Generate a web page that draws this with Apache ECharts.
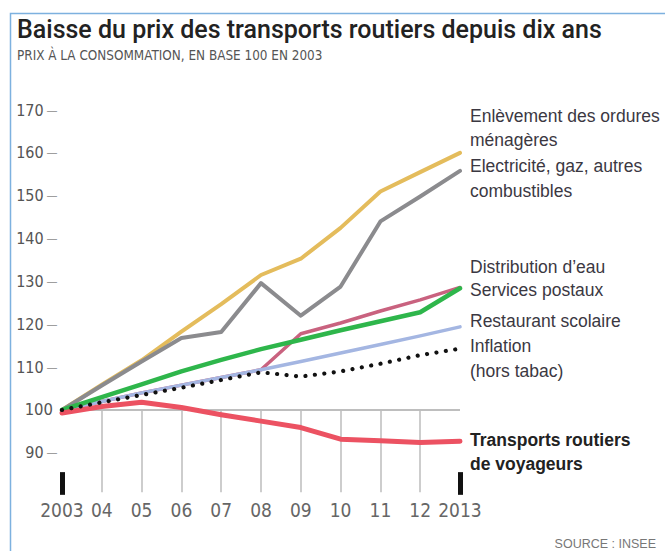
<!DOCTYPE html>
<html>
<head>
<meta charset="utf-8">
<style>html,body{margin:0;padding:0;background:#fff;}#c{width:665px;height:551px;}</style>
<script src="https://cdn.jsdelivr.net/npm/echarts@6/dist/echarts.min.js"></script>
</head>
<body>
<div id="c"></div>
<script>
const years = ['2003','04','05','06','07','08','09','10','11','12','2013'];
const yTicks = [90, 100, 110, 120, 130, 140, 150, 160, 170];
const ordures = [100, 105.9, 111.6, 118.3, 124.7, 131.5, 135.3, 142.5, 151, 155.5, 160];
const electricite = [100, 105.7, 111.3, 116.8, 118.2, 129.6, 122, 128.8, 144, 149.8, 155.8];
const eau = [100, 102, 104, 105.8, 107.6, 109.4, 117.8, 120.3, 123.1, 125.7, 128.6];
const postaux = [100, 103, 106, 109, 111.7, 114.2, 116.4, 118.6, 120.7, 122.8, 128.4];
const scolaire = [100, 102, 104, 105.8, 107.6, 109.4, 111.3, 113.3, 115.3, 117.3, 119.4];
const inflation = [100, 101.8, 103.5, 105.2, 107, 108.8, 107.8, 109, 110.8, 112.8, 114.3];
const transports = [99.3, 100.8, 101.8, 100.6, 98.9, 97.4, 95.9, 93.2, 92.8, 92.4, 92.7];

const labelTexts = [
  {t: 'Enlèvement des ordures', y: 117},
  {t: 'ménagères', y: 141},
  {t: 'Electricité, gaz, autres', y: 167},
  {t: 'combustibles', y: 192},
  {t: 'Distribution d\u2019eau', y: 268},
  {t: 'Services postaux', y: 291},
  {t: 'Restaurant scolaire', y: 322},
  {t: 'Inflation', y: 347},
  {t: '(hors tabac)', y: 372},
  {t: 'Transports routiers', y: 441, b: true},
  {t: 'de voyageurs', y: 465, b: true}
];

const NARROW = "'Liberation Sans Narrow', 'DejaVu Sans Condensed', sans-serif";
const SANS = "'Liberation Sans', Arial, sans-serif";

const chart = echarts.init(document.getElementById('c'), null, {renderer: 'svg'});

const gridMarks = years.slice(1, -1).map(c => [{coord: [c, 100]}, {coord: [c, 80.8]}]);
const endBars = [years[0], years[years.length - 1]].map(c => [{coord: [c, 80.2]}, {coord: [c, 85.5]}]);

function lineSeries(name, data, color, width, z) {
  return {
    name, type: 'line', data, symbol: 'none', z,
    lineStyle: {color, width, cap: 'round', join: 'round'},
    emphasis: {disabled: true}, silent: true
  };
}

chart.setOption({
  animation: false,
  backgroundColor: '#fff',
  title: {
    text: 'Baisse du prix des transports routiers depuis dix ans',
    subtext: 'PRIX À LA CONSOMMATION, EN BASE 100 EN 2003',
    left: 17, top: 17, itemGap: 7, padding: 0,
    textStyle: {fontFamily: 'Roboto', fontWeight: 500, fontSize: 25, color: '#222'},
    subtextStyle: {fontFamily: NARROW, fontSize: 13.4, color: '#555'}
  },
  grid: {left: 62, right: 205, top: 110, bottom: 55.3},
  xAxis: {
    type: 'category', data: years, boundaryGap: false,
    axisLine: {show: false}, axisTick: {show: false}, splitLine: {show: false},
    axisLabel: {fontFamily: NARROW, fontSize: 19, color: '#666', margin: 5, interval: 0}
  },
  yAxis: {
    type: 'value', min: 80, max: 170, interval: 10,
    axisLine: {show: false}, axisTick: {show: false}, splitLine: {show: false},
    axisLabel: {
      margin: 5,
      formatter: v => yTicks.indexOf(v) < 0 ? '' : (v === 100 ? '{h|100}' : '{v|' + v + '} {d|\u2014}'),
      rich: {
        v: {fontFamily: NARROW, fontSize: 16, color: '#555'},
        h: {fontFamily: NARROW, fontSize: 16.5, color: '#555', padding: [0, 4, 0, 0]},
        d: {fontFamily: SANS, fontSize: 10, color: '#888'}
      }
    }
  },
  series: [
    {
      type: 'line', data: [], symbol: 'none', z: 1, silent: true,
      markLine: {
        silent: true, symbol: 'none', label: {show: false}, animation: false,
        data: [
          [{coord: [years[0], 100], lineStyle: {color: '#a8a8a8', width: 1.5, type: 'solid'}},
           {coord: [years[years.length - 1], 100]}],
          ...gridMarks.map(p => [Object.assign({lineStyle: {color: '#bdbdbd', width: 1.5, type: 'solid'}}, p[0]), p[1]]),
          ...endBars.map(p => [Object.assign({lineStyle: {color: '#111', width: 5, type: 'solid', cap: 'butt'}}, p[0]), p[1]])
        ]
      }
    },
    lineSeries('Enlèvement des ordures ménagères', ordures, '#e4bc5c', 4, 2),
    lineSeries('Electricité, gaz, autres combustibles', electricite, '#8b8b8e', 4, 3),
    lineSeries('Distribution d\u2019eau', eau, '#c9627f', 3.5, 4),
    lineSeries('Restaurant scolaire', scolaire, '#a4b6e2', 3.5, 5),
    lineSeries('Services postaux', postaux, '#2eb64b', 4.5, 6),
    lineSeries('Transports routiers de voyageurs', transports, '#ec5262', 5, 7),
    {
      name: 'Inflation (hors tabac)', type: 'line', data: inflation, symbol: 'none', z: 8, silent: true,
      lineStyle: {color: '#111', width: 4.2, type: [0.01, 9.5], cap: 'round'}
    }
  ],
  graphic: [
    {type: 'polyline', silent: true, z: 100,
     shape: {points: [[10.5, 551], [10.5, 13.5], [665, 13.5]]},
     style: {stroke: '#7db1df', lineWidth: 1.5, fill: null}},
    ...labelTexts.map(l => ({
      type: 'text', left: 470, top: l.y - 10, silent: true,
      style: {text: l.t, fontFamily: SANS, fontSize: 17.5, fontWeight: l.b ? 'bold' : 'normal',
              fill: l.b ? '#222' : '#3b3842', textVerticalAlign: 'top'}
    })),
    {type: 'text', right: 9, top: 537, silent: true,
     style: {text: 'SOURCE : INSEE', fontFamily: SANS, fontSize: 12.5, fill: '#777'}}
  ]
});
</script>
</body>
</html>
